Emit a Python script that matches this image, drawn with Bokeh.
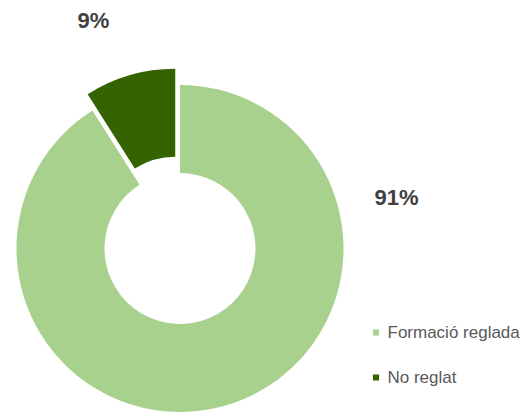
import math
from bokeh.plotting import figure
from bokeh.models import Range1d, ColumnDataSource
from bokeh.core.properties import value
from bokeh.embed import file_html
from bokeh.resources import INLINE

categories = ["Formació reglada", "No reglat"]
values = [91, 9]
colors = ["#A9D18E", "#356300"]
labels = ["91%", "9%"]
explode = [0, 17]

W, H = 529, 412
p = figure(width=W, height=H, output_backend="svg", toolbar_location=None,
           x_range=Range1d(0, W), y_range=Range1d(0, H),
           min_border=0, outline_line_color=None)
p.axis.visible = False
p.grid.visible = False

cx, cy = 179.5, 164.0
r_out, r_in = 163.5, 75.5

total = float(sum(values))
starts, ends, xs, ys = [], [], [], []
cum = 0.0
for v, e in zip(values, explode):
    a0 = math.pi / 2 - cum / total * 2 * math.pi
    cum += v
    a1 = math.pi / 2 - cum / total * 2 * math.pi
    mid = (a0 + a1) / 2
    starts.append(a0)
    ends.append(a1)
    xs.append(cx + e * math.cos(mid))
    ys.append(cy + e * math.sin(mid))

src = ColumnDataSource(dict(x=xs, y=ys, start=starts, end=ends, color=colors, cat=categories))
p.annular_wedge(x="x", y="y", inner_radius=r_in, outer_radius=r_out,
                start_angle="start", end_angle="end", direction="clock",
                fill_color="color", line_color=None, source=src)

# percentage labels
lab_x = [396, 93]
lab_y = [215, 392]
p.text(x=lab_x, y=lab_y, text=labels, text_font=value("Liberation Sans"),
       text_font_style="bold", text_font_size="22px", text_color="#404040",
       text_align="center", text_baseline="middle")

# legend
leg_y = [80, 35]
p.scatter(x=[375.5, 375.5], y=leg_y, marker="square", size=6,
          fill_color=colors, line_color=None)
p.text(x=[387, 387], y=leg_y, text=categories, text_font=value("Liberation Sans"),
       text_font_size="17px", text_color="#595959",
       text_align="left", text_baseline="middle")

open("out.html", "w").write(file_html(p, INLINE))
